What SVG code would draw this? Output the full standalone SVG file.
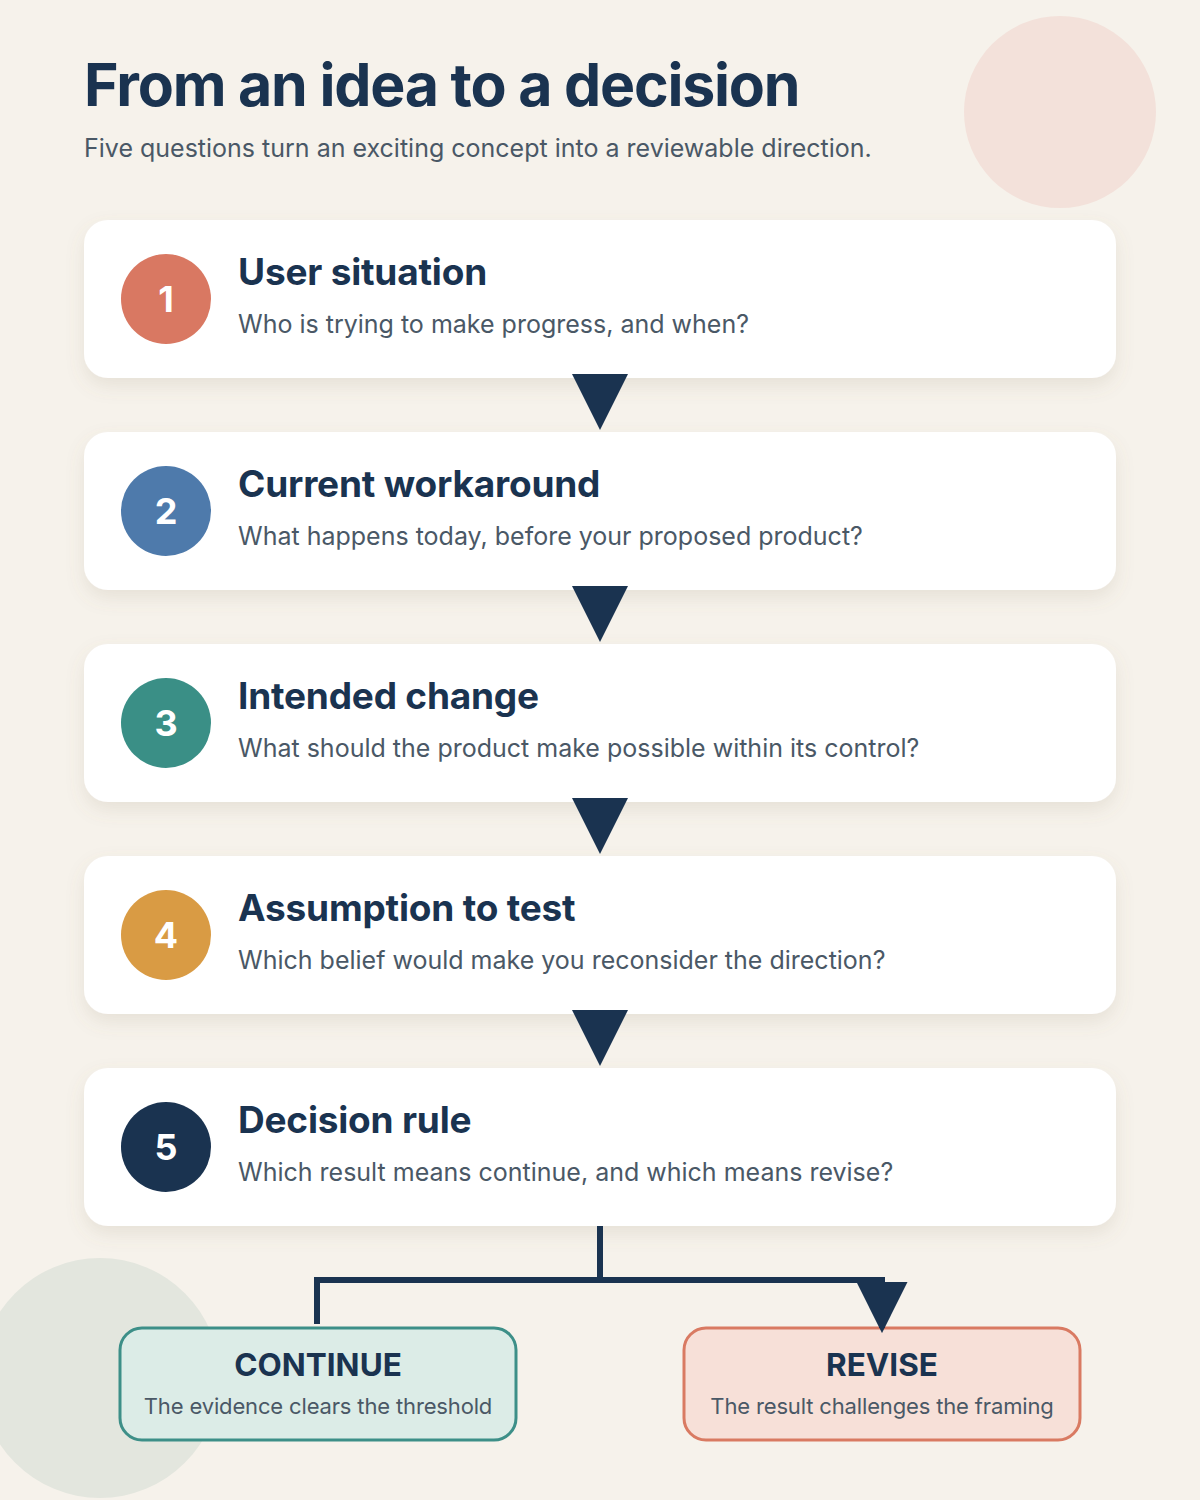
<svg xmlns="http://www.w3.org/2000/svg" width="1200" height="1500" viewBox="0 0 1200 1500">
<defs>
<style>
.title{font-family:Inter,"Liberation Sans",sans-serif;font-weight:700;fill:#1a3350}
.sub{font-family:Inter,"Liberation Sans",sans-serif;font-weight:400;fill:#4a5866}
.card{fill:#ffffff}
.num{font-family:Inter,"Liberation Sans",sans-serif;font-weight:700;font-size:36px;fill:#ffffff;text-anchor:middle}
.ct{font-family:Inter,"Liberation Sans",sans-serif;font-weight:700;font-size:37px;fill:#1a3350;letter-spacing:-0.2px}
.cs{font-family:Inter,"Liberation Sans",sans-serif;font-weight:400;font-size:25px;fill:#4a5866}
.ot{font-family:Inter,"Liberation Sans",sans-serif;font-weight:700;font-size:31.5px;fill:#1a3350;text-anchor:middle}
.os{font-family:Inter,"Liberation Sans",sans-serif;font-weight:400;font-size:22px;fill:#4a5866;text-anchor:middle;letter-spacing:-0.15px}
.conn{fill:none;stroke:#1a3350;stroke-width:6}
.tri{fill:#1a3350}
</style>
<filter id="shadow" x="-10%" y="-20%" width="120%" height="150%">
<feDropShadow dx="0" dy="8" stdDeviation="9" flood-color="#8a7a5a" flood-opacity="0.14"/>
</filter>
<marker id="ah" viewBox="0 0 10 10" refX="9" refY="5" markerWidth="8.5" markerHeight="8.5" markerUnits="strokeWidth" orient="auto">
<path d="M0,0 L10,5 L0,10 Z" fill="#1a3350"/>
</marker>
</defs>
<rect x="0" y="0" width="1200" height="1500" fill="#f6f2eb"/>
<circle cx="1060" cy="112" r="96" fill="#f3e1da"/>
<circle cx="100" cy="1378" r="120" fill="#e3e6de"/>

<g id="header">
<text class="title" x="84" y="106" font-size="59" letter-spacing="-1.2">From an idea to a decision</text>
<text class="sub" x="84" y="157" font-size="25">Five questions turn an exciting concept into a reviewable direction.</text>
</g>

<g id="step1">
<rect class="card" x="84" y="220" width="1032" height="158" rx="24" filter="url(#shadow)"/>
<circle cx="166" cy="299" r="45" fill="#d97862"/>
<text class="num" x="166" y="312">1</text>
<text class="ct" x="238" y="285">User situation</text>
<text class="cs" x="238" y="333">Who is trying to make progress, and when?</text>
</g>

<g id="step2">
<rect class="card" x="84" y="432" width="1032" height="158" rx="24" filter="url(#shadow)"/>
<circle cx="166" cy="511" r="45" fill="#4e7aab"/>
<text class="num" x="166" y="524">2</text>
<text class="ct" x="238" y="497">Current workaround</text>
<text class="cs" x="238" y="545">What happens today, before your proposed product?</text>
</g>

<g id="step3">
<rect class="card" x="84" y="644" width="1032" height="158" rx="24" filter="url(#shadow)"/>
<circle cx="166" cy="723" r="45" fill="#3a8f86"/>
<text class="num" x="166" y="736">3</text>
<text class="ct" x="238" y="709">Intended change</text>
<text class="cs" x="238" y="757">What should the product make possible within its control?</text>
</g>

<g id="step4">
<rect class="card" x="84" y="856" width="1032" height="158" rx="24" filter="url(#shadow)"/>
<circle cx="166" cy="935" r="45" fill="#d99b44"/>
<text class="num" x="166" y="948">4</text>
<text class="ct" x="238" y="921">Assumption to test</text>
<text class="cs" x="238" y="969">Which belief would make you reconsider the direction?</text>
</g>

<g id="step5">
<rect class="card" x="84" y="1068" width="1032" height="158" rx="24" filter="url(#shadow)"/>
<circle cx="166" cy="1147" r="45" fill="#1a3350"/>
<text class="num" x="166" y="1160">5</text>
<text class="ct" x="238" y="1133">Decision rule</text>
<text class="cs" x="238" y="1181">Which result means continue, and which means revise?</text>
</g>

<g id="continue">
<rect x="120" y="1328" width="396" height="112" rx="22" fill="#dcece7" stroke="#3d8f88" stroke-width="3"/>
<text class="ot" x="318" y="1376">CONTINUE</text>
<text class="os" x="318" y="1414">The evidence clears the threshold</text>
</g>

<g id="revise">
<rect x="684" y="1328" width="396" height="112" rx="22" fill="#f7e0d8" stroke="#d97a62" stroke-width="3"/>
<text class="ot" x="882" y="1376">REVISE</text>
<text class="os" x="882" y="1414">The result challenges the framing</text>
</g>

<g id="connectors">
<polygon class="tri" points="572,374 628,374 600,430"/>
<polygon class="tri" points="572,586 628,586 600,642"/>
<polygon class="tri" points="572,798 628,798 600,854"/>
<polygon class="tri" points="572,1010 628,1010 600,1066"/>
<path class="conn" d="M600,1226 V1280 H317 V1324"/>
<path class="conn" d="M600,1280 H882 V1328" marker-end="url(#ah)"/>
</g>
</svg>
